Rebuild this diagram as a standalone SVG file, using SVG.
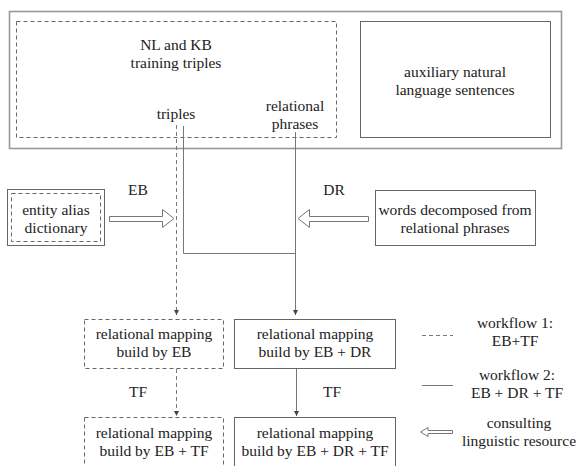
<svg xmlns="http://www.w3.org/2000/svg" width="579" height="466" viewBox="0 0 579 466" font-family="'Liberation Serif', 'DejaVu Serif', serif">
<defs>
<style>
text{font-family:'Liberation Serif','DejaVu Serif',serif;font-size:15.5px;fill:#222;text-anchor:middle}
.box{fill:none;stroke:#666;stroke-width:1}
.dbox{fill:none;stroke:#666;stroke-width:1;stroke-dasharray:4 3}
.line{fill:none;stroke:#777;stroke-width:1}
.dline{fill:none;stroke:#777;stroke-width:1;stroke-dasharray:4 3}
.harrow{fill:#fff;stroke:#777;stroke-width:1}
</style>
<marker id="ah" markerWidth="6" markerHeight="6" refX="5" refY="3" orient="auto" markerUnits="userSpaceOnUse">
<path d="M0,0.5 L5,3 L0,5.5 Z" fill="#444"/>
</marker>
</defs>
<rect width="579" height="466" fill="#fff"/>

<g id="outer">
<rect x="9.5" y="11.5" width="552" height="137" fill="none" stroke="#999" stroke-width="1.6"/>
</g>

<g id="nlkb">
<rect class="dbox" x="16.5" y="21.5" width="320" height="116"/>
<text x="176" y="50">NL and KB</text>
<text x="176" y="68">training triples</text>
<text x="176" y="119">triples</text>
<text x="295" y="111">relational</text>
<text x="295" y="129">phrases</text>
</g>

<g id="aux">
<rect class="box" x="360.5" y="21.5" width="190" height="116"/>
<text x="455" y="77">auxiliary natural</text>
<text x="455" y="95">language sentences</text>
</g>

<g id="entity">
<rect class="box" x="7.5" y="189.5" width="97" height="56"/>
<rect class="dbox" x="11.5" y="193.5" width="89" height="48"/>
<text x="56" y="215">entity alias</text>
<text x="56" y="233">dictionary</text>
</g>

<g id="words">
<rect class="box" x="375.5" y="190.5" width="160" height="55"/>
<text x="455" y="215">words decomposed from</text>
<text x="455" y="233">relational phrases</text>
</g>

<g id="box1">
<rect class="dbox" x="84.5" y="319.5" width="139" height="49"/>
<text x="154" y="339">relational mapping</text>
<text x="154" y="357">build by EB</text>
</g>
<g id="box2">
<rect class="box" x="234.5" y="319.5" width="161" height="49"/>
<text x="315" y="339">relational mapping</text>
<text x="315" y="357">build by EB + DR</text>
</g>
<g id="box3">
<rect class="dbox" x="84.5" y="417.5" width="139" height="52"/>
<text x="154" y="438">relational mapping</text>
<text x="154" y="456">build by EB + TF</text>
</g>
<g id="box4">
<rect class="box" x="234.5" y="417.5" width="161" height="52"/>
<text x="315" y="438">relational mapping</text>
<text x="315" y="456">build by EB + DR + TF</text>
</g>

<g id="connectors">
<line class="dline" x1="176.5" y1="125" x2="176.5" y2="315" marker-end="url(#ah)"/>
<polyline class="line" points="183.5,126 183.5,253.5 295.5,253.5"/>
<line class="line" x1="295.5" y1="132" x2="295.5" y2="315" marker-end="url(#ah)"/>
<line class="dline" x1="176.5" y1="369" x2="176.5" y2="416" marker-end="url(#ah)"/>
<line class="line" x1="296.5" y1="369" x2="296.5" y2="416" marker-end="url(#ah)"/>
<polygon class="harrow" points="109.5,216.5 162.5,216.5 162.5,209.5 174,218.5 162.5,227.5 162.5,221.5 109.5,221.5"/>
<polygon class="harrow" points="368.5,216.5 309.5,216.5 309.5,209.5 298,218.5 309.5,227.5 309.5,221.5 368.5,221.5"/>
<text x="138" y="195">EB</text>
<text x="334" y="195">DR</text>
<text x="138" y="397">TF</text>
<text x="332" y="397">TF</text>
</g>

<g id="legend">
<line class="dline" x1="422" y1="335.5" x2="453" y2="335.5" stroke-dasharray="3 3"/>
<text x="515" y="328">workflow 1:</text>
<text x="515" y="346">EB+TF</text>
<line class="line" x1="422" y1="385.5" x2="453" y2="385.5"/>
<text x="517" y="380">workflow 2:</text>
<text x="517" y="398">EB + DR + TF</text>
<polygon class="harrow" points="452.5,430.5 428,430.5 428,427.5 420.5,432 428,436.5 428,433.5 452.5,433.5"/>
<text x="519" y="428">consulting</text>
<text x="519" y="446">linguistic resource</text>
</g>
</svg>
